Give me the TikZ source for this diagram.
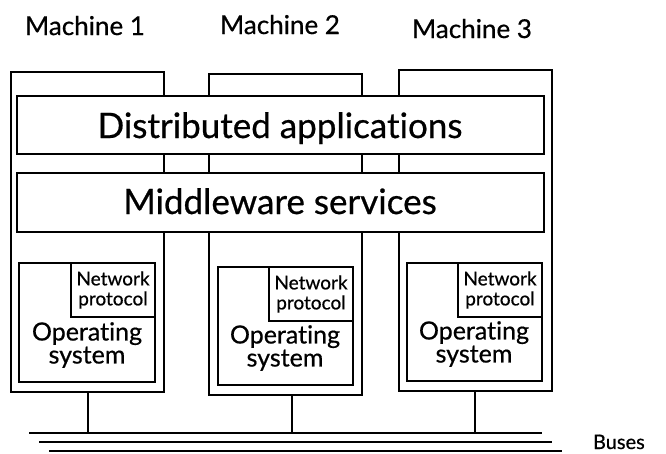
\documentclass[tikz,border=0pt]{standalone}
\usepackage{fontspec}
\setmainfont{Lato}[Ligatures=NoCommon, FakeBold=0.6]
\begin{document}
\begin{tikzpicture}[x=1pt,y=-1pt,
  box/.style={draw, line width=1.8pt, fill=white, inner sep=0pt, outer sep=0pt, anchor=north west},
  npbox/.style={draw, line width=1.8pt, fill=white, inner sep=0pt, outer sep=0pt, anchor=north east,
    minimum width=84pt, minimum height=54pt, align=center, font=\fontsize{19}{20}\selectfont},
  lbl/.style={inner sep=0pt, outer sep=0pt},
  mlbl/.style={lbl, anchor=base, font=\fontsize{26}{30}\selectfont},
  big/.style={font=\fontsize{35}{38}\selectfont},
  ostext/.style={lbl, align=center, font=\fontsize{25}{23}\selectfont},
  wire/.style={line width=1.8pt}]
\useasboundingbox (0,0) rectangle (666,453);
% machine labels
\node[mlbl] (t1) at (85,35) {Machine 1};
\node[mlbl] (t2) at (280,34) {Machine 2};
\node[mlbl] (t3) at (472,38) {Machine 3};
% machines
\node[box, minimum width=153pt, minimum height=320pt] (m1) at (11,72) {};
\node[box, minimum width=153pt, minimum height=321pt] (m2) at (209,74) {};
\node[box, minimum width=153pt, minimum height=321pt] (m3) at (399,70) {};
% layers
\node[box, minimum width=527pt, minimum height=58pt] (da) at (17,96) {};
\node[lbl, big, anchor=base] (dat) at (280,138) {Distributed applications};
\node[box, minimum width=527pt, minimum height=59pt] (mw) at (17,173) {};
\node[lbl, big, anchor=base] (mwt) at (280,214) {Middleware services};
% operating systems
\node[box, minimum width=136pt, minimum height=119pt] (os1) at (19,263) {};
\node[box, minimum width=135pt, minimum height=118pt] (os2) at (218,267) {};
\node[box, minimum width=135pt, minimum height=118pt] (os3) at (407,263) {};
\node[npbox] (np1) at (os1.north east) {Network\\protocol};
\node[npbox] (np2) at (os2.north east) {Network\\protocol};
\node[npbox] (np3) at (os3.north east) {Network\\protocol};
\node[ostext] (os1t) at (87,345) {Operating\\system};
\node[ostext] (os2t) at (285,348) {Operating\\system};
\node[ostext] (os3t) at (474,344) {Operating\\system};
% buses
\coordinate (b1w) at (29,433);  \coordinate (b1e) at (542,433);
\coordinate (b2w) at (39,442);  \coordinate (b2e) at (552,442);
\coordinate (b3w) at (49,451);  \coordinate (b3e) at (562,451);
\draw[wire] (b1w) -- (b1e);
\draw[wire] (b2w) -- (b2e);
\draw[wire] (b3w) -- (b3e);
\coordinate (c1) at (88,433);
\coordinate (c2) at (292,433);
\coordinate (c3) at (475,433);
\draw[wire] (c1 |- m1.south) -- (c1);
\draw[wire] (c2 |- m2.south) -- (c2);
\draw[wire] (c3 |- m3.south) -- (c3);
\node[lbl, anchor=base west, font=\fontsize{20}{24}\selectfont] (bus) at (593,449) {Buses};
\end{tikzpicture}
\end{document}
